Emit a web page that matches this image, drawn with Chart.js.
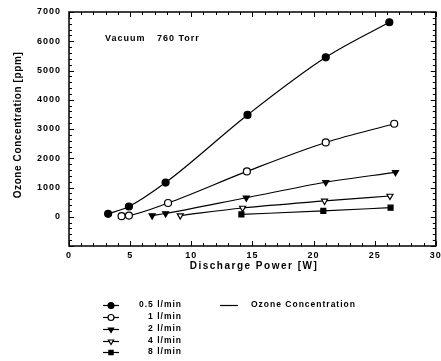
<!DOCTYPE html>
<html>
<head>
<meta charset="UTF-8">
<script src="https://cdn.jsdelivr.net/npm/chart.js@4.4.1/dist/chart.umd.min.js"></script>
<style>
*{margin:0;padding:0}
body{background:#fff;width:441px;height:361px;overflow:hidden}
#wrap{position:relative;width:441px;height:361px}
</style>
</head>
<body>
<div id="wrap"><canvas id="c" width="441" height="361"></canvas></div>
<script>
// data (x = discharge power W, y = ozone ppm)
const flowLabels=['0.5 l/min','1 l/min','2 l/min','4 l/min','8 l/min'];
const power05=[3.2,4.9,7.9,14.6,21.0,26.2];
const ozone05=[100,350,1170,3480,5450,6650];
const power1=[4.3,4.9,8.1,14.55,21.0,26.6];
const ozone1=[20,40,470,1550,2540,3180];
const power2=[6.8,7.9,14.5,21.0,26.7];
const ozone2=[40,110,650,1180,1520];
const power4=[9.1,14.2,20.9,26.25];
const ozone4=[40,300,540,710];
const power8=[14.1,20.8,26.3];
const ozone8=[80,200,310];
const yTicks=[0,1000,2000,3000,4000,5000,6000,7000];
const xTicks=[0,5,10,15,20,25,30];

const FONT='"Liberation Sans", Arial, sans-serif';
const pts=(xs,ys)=>xs.map((x,i)=>({x,y:ys[i]}));

const styles=[
  {pointStyle:'circle',rot:0,fill:'#000'},
  {pointStyle:'circle',rot:0,fill:'#fff'},
  {pointStyle:'triangle',rot:180,fill:'#000'},
  {pointStyle:'triangle',rot:180,fill:'#fff'},
  {pointStyle:'rect',rot:0,fill:'#000'},
];
const series=[pts(power05,ozone05),pts(power1,ozone1),pts(power2,ozone2),pts(power4,ozone4),pts(power8,ozone8)];

const datasets=series.map((d,i)=>({
  label:flowLabels[i],
  data:d,
  borderColor:'#000',borderWidth:1.2,
  pointStyle:styles[i].pointStyle,pointRotation:styles[i].rot,
  pointBackgroundColor:styles[i].fill,pointBorderColor:'#000',pointBorderWidth:1.2,
  pointRadius:3.5,
  tension:0.4,cubicInterpolationMode:'monotone',fill:false
}));

// frame, inner ticks, titles, annotation and legend
const decor={
  id:'decor',
  beforeDraw(chart){chart.ctx.letterSpacing='1px';},
  afterDraw(chart){
    const ctx=chart.ctx,{left,right,top,bottom}=chart.chartArea,x=chart.scales.x,y=chart.scales.y;
    ctx.save();
    ctx.strokeStyle='#000';ctx.lineWidth=1.5;
    ctx.strokeRect(left,top,right-left,bottom-top);
    ctx.lineWidth=1;
    ctx.beginPath();
    for(let v=-1000;v<=7000;v+=200){
      const py=Math.round(y.getPixelForValue(v))+0.5,len=v%1000===0?5:3;
      ctx.moveTo(left,py);ctx.lineTo(left+len,py);
      ctx.moveTo(right,py);ctx.lineTo(right-len,py);
    }
    for(let v=0;v<=30;v+=1){
      const px=Math.round(x.getPixelForValue(v))+0.5,len=v%5===0?5:3;
      ctx.moveTo(px,bottom);ctx.lineTo(px,bottom-len);
      ctx.moveTo(px,top);ctx.lineTo(px,top+len);
    }
    ctx.stroke();

    ctx.fillStyle='#000';
    ctx.textBaseline='middle';
    // axis titles
    ctx.letterSpacing='1.5px';
    ctx.font='bold 10px '+FONT;
    ctx.textAlign='center';
    ctx.fillText('Discharge Power [W]',254,266);
    ctx.save();
    ctx.translate(18,125);ctx.rotate(-Math.PI/2);
    ctx.letterSpacing='0.6px';
    ctx.fillText('Ozone Concentration [ppm]',0,0);
    ctx.restore();
    // annotation
    ctx.letterSpacing='1px';
    ctx.font='bold 9px '+FONT;
    ctx.textAlign='left';
    ctx.fillText('Vacuum',105,39);
    ctx.fillText('760 Torr',157,39);

    // legend
    const rows=[305,317,329,341,352];
    ctx.font='bold 8.5px '+FONT;
    datasets.forEach((ds,i)=>{
      const yy=rows[i];
      ctx.strokeStyle='#000';ctx.lineWidth=1.2;
      ctx.beginPath();ctx.moveTo(103,yy+0.5);ctx.lineTo(119,yy+0.5);ctx.stroke();
      ctx.fillStyle=ds.pointBackgroundColor;
      Chart.helpers.drawPoint(ctx,{pointStyle:ds.pointStyle,rotation:ds.pointRotation,radius:3,borderWidth:1.2},111,yy+0.5);
      ctx.fillStyle='#000';ctx.textAlign='right';
      ctx.fillText(ds.label,182,yy);
    });
    ctx.beginPath();ctx.moveTo(220,305.5);ctx.lineTo(238,305.5);ctx.stroke();
    ctx.textAlign='left';
    ctx.fillText('Ozone Concentration',251,305);
    ctx.restore();
  }
};

new Chart(document.getElementById('c'),{
  type:'line',
  data:{datasets},
  options:{
    responsive:false,animation:false,
    layout:{padding:{left:0,top:12,right:3,bottom:85}},
    plugins:{legend:{display:false},tooltip:{enabled:false}},
    scales:{
      x:{type:'linear',min:0,max:30,
        afterFit(s){s.height=30;s.paddingLeft=0;s.paddingRight=0;},
        afterBuildTicks(s){s.ticks=xTicks.map(v=>({value:v}));},
        grid:{display:false,drawTicks:false},border:{display:false},
        ticks:{padding:4,color:'#000',font:{family:FONT,size:9,weight:'bold'},maxRotation:0,callback:v=>String(v)}},
      y:{type:'linear',min:-1000,max:7000,
        afterFit(s){s.width=69;s.paddingTop=0;s.paddingBottom=0;},
        afterBuildTicks(s){s.ticks=yTicks.map(v=>({value:v}));},
        grid:{display:false,drawTicks:false},border:{display:false},
        ticks:{padding:8,color:'#000',font:{family:FONT,size:9,weight:'bold'},callback:v=>String(v)}}
    }
  },
  plugins:[decor]
});
</script>
</body>
</html>
